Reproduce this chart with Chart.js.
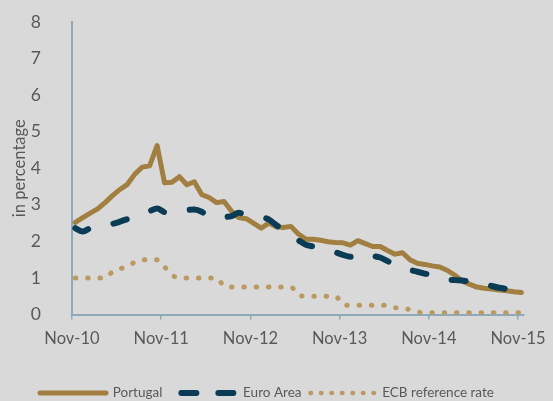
<!DOCTYPE html>
<html>
<head>
<meta charset="utf-8">
<script src="https://cdn.jsdelivr.net/npm/chart.js@4.4.1/dist/chart.umd.min.js"></script>
<style>
html,body{margin:0;padding:0;background:#d9d9d9;}
canvas{display:block;}
</style>
</head>
<body>
<canvas id="c" width="553" height="401"></canvas>
<script>
// ---- data ----
const months = [
 'Nov-10','Dec-10','Jan-11','Feb-11','Mar-11','Apr-11','May-11','Jun-11','Jul-11','Aug-11','Sep-11','Oct-11',
 'Nov-11','Dec-11','Jan-12','Feb-12','Mar-12','Apr-12','May-12','Jun-12','Jul-12','Aug-12','Sep-12','Oct-12',
 'Nov-12','Dec-12','Jan-13','Feb-13','Mar-13','Apr-13','May-13','Jun-13','Jul-13','Aug-13','Sep-13','Oct-13',
 'Nov-13','Dec-13','Jan-14','Feb-14','Mar-14','Apr-14','May-14','Jun-14','Jul-14','Aug-14','Sep-14','Oct-14',
 'Nov-14','Dec-14','Jan-15','Feb-15','Mar-15','Apr-15','May-15','Jun-15','Jul-15','Aug-15','Sep-15','Oct-15',
 'Nov-15'
];
const portugal = [
 2.52,2.65,2.77,2.89,3.06,3.25,3.42,3.56,3.84,4.03,
 4.07,4.62,3.60,3.62,3.77,3.55,3.63,3.28,3.20,3.06,
 3.09,2.83,2.65,2.62,2.49,2.36,2.50,2.40,2.38,2.41,
 2.20,2.06,2.06,2.03,1.99,1.97,1.96,1.90,2.02,1.94,
 1.86,1.86,1.75,1.65,1.69,1.50,1.40,1.37,1.33,1.30,
 1.21,1.08,0.92,0.83,0.75,0.72,0.70,0.67,0.65,0.62,
 0.60
];
const euroArea = [
 2.36,2.27,2.36,2.42,2.45,2.48,2.54,2.61,2.68,2.76,
 2.83,2.90,2.80,2.79,2.83,2.86,2.87,2.81,2.67,2.66,
 2.67,2.69,2.78,2.72,2.69,2.66,2.60,2.45,2.30,2.15,
 2.03,1.91,1.86,1.81,1.75,1.70,1.63,1.58,1.67,1.63,
 1.60,1.56,1.46,1.36,1.29,1.22,1.17,1.12,1.07,0.99,
 0.96,0.94,0.93,0.90,0.88,0.84,0.78,0.73,0.70,0.67,
 0.65
];
const ecbRate = [
 1.00,1.00,1.00,1.00,1.00,1.17,1.25,1.32,1.43,1.50,
 1.50,1.50,1.30,1.08,1.00,1.00,1.00,1.00,1.00,1.00,
 0.78,0.75,0.75,0.75,0.75,0.75,0.75,0.75,0.75,0.75,
 0.53,0.50,0.50,0.50,0.50,0.50,0.27,0.25,0.25,0.25,
 0.25,0.25,0.25,0.19,0.15,0.14,0.07,0.05,0.05,0.05,
 0.05,0.05,0.05,0.05,0.05,0.05,0.05,0.05,0.05,0.05,
 0.05
];
const seriesNames = ['Portugal', 'Euro Area', 'ECB reference rate'];
const xTickMonths = [0, 12, 24, 36, 48, 60];
const xTickLabels = ['Nov-10', 'Nov-11', 'Nov-12', 'Nov-13', 'Nov-14', 'Nov-15'];
const yTicks = [0, 1, 2, 3, 4, 5, 6, 7, 8];

// ---- styling ----
const MID_MONTH = 0.45; // observations sit mid-month on the date axis
const C_PT = '#a17f40', C_EA = '#0b3c55', C_ECB = '#bb9a62';
const C_AXIS = '#8fa9b9', C_TEXT = '#595959';
const LEGEND_START_X = 40, LEGEND_CY = 393;

Chart.defaults.font.family = 'Lato, "Open Sans", sans-serif';
Chart.defaults.color = C_TEXT;

const toPts = arr => arr.map((v, i) => ({x: i + MID_MONTH, y: v}));

const legendStyles = [
  {strokeStyle: C_PT, lineWidth: 5, lineCap: 'round', lineDash: [], lineDashOffset: 0},
  {strokeStyle: C_EA, lineWidth: 6, lineCap: 'round', lineDash: [15, 22], lineDashOffset: 26},
  {strokeStyle: C_ECB, lineWidth: 4.5, lineCap: 'round', lineDash: [0.5, 10], lineDashOffset: 9.5}
];

const legendMover = {
  id: 'legendMover',
  afterLayout(chart) {
    const lg = chart.legend;
    if (!lg || !lg.lineWidths) return;
    const pad = lg.options.labels.padding;
    const fs = lg.options.labels.font.size;
    const curX = (lg.left + pad + lg.right - lg.lineWidths[0]) / 2;
    const dx = LEGEND_START_X - curX;
    lg.left += dx; lg.right += dx;
    const curY = lg.top + pad + fs / 2;
    const dy = LEGEND_CY - curY;
    lg.top += dy; lg.bottom += dy;
  }
};

new Chart(document.getElementById('c'), {
  type: 'line',
  data: {
    datasets: [
      {label: seriesNames[0], data: toPts(portugal), borderColor: C_PT, backgroundColor: C_PT,
       borderWidth: 5, borderCapStyle: 'round', borderJoinStyle: 'round', tension: 0, pointRadius: 0, order: 1},
      {label: seriesNames[1], data: toPts(euroArea), borderColor: C_EA, backgroundColor: C_EA,
       borderWidth: 6, borderCapStyle: 'round', borderJoinStyle: 'round', borderDash: [14, 26],
       cubicInterpolationMode: 'monotone', pointRadius: 0, order: 0},
      {label: seriesNames[2], data: toPts(ecbRate), borderColor: C_ECB, backgroundColor: C_ECB,
       borderWidth: 5, borderCapStyle: 'round', borderDash: [0.5, 11.8],
       cubicInterpolationMode: 'monotone', pointRadius: 0, order: 2}
    ]
  },
  options: {
    responsive: false,
    animation: false,
    devicePixelRatio: 1,
    layout: {autoPadding: false, padding: {top: 22, right: 29, left: 0, bottom: 0}},
    scales: {
      x: {
        type: 'linear', min: 0, max: 60.8,
        afterBuildTicks: s => { s.ticks = xTickMonths.map(v => ({value: v})); },
        afterFit: s => { s.height = 55; s.paddingLeft = 0; s.paddingRight = 0; s.paddingTop = 0; s.paddingBottom = 0; },
        ticks: {
          autoSkip: false, maxRotation: 0, padding: 9,
          font: {size: 16.5}, color: C_TEXT,
          callback: v => { const k = xTickMonths.indexOf(v); return k >= 0 ? xTickLabels[k] : ''; }
        },
        grid: {display: true, drawOnChartArea: false, drawTicks: true, tickLength: 5, color: C_AXIS, lineWidth: 1.5},
        border: {display: true, color: C_AXIS, width: 2}
      },
      y: {
        min: 0, max: 8,
        afterBuildTicks: s => { s.ticks = yTicks.map(v => ({value: v})); },
        afterFit: s => { s.width = 72; s.paddingLeft = 0; s.paddingRight = 0; s.paddingTop = 0; s.paddingBottom = 0; },
        ticks: {padding: 23, font: {size: 17.5}, color: C_TEXT},
        grid: {display: false},
        border: {display: true, color: C_AXIS, width: 2},
        title: {display: true, text: 'in percentage', font: {size: 16.5}, color: C_TEXT, padding: {top: 10, bottom: 0}}
      }
    },
    plugins: {
      tooltip: {enabled: false},
      legend: {
        position: 'bottom',
        labels: {
          usePointStyle: true, pointStyle: 'line', pointStyleWidth: 66,
          padding: 8, font: {size: 13.5}, color: C_TEXT,
          sort: (a, b) => a.datasetIndex - b.datasetIndex,
          generateLabels: chart => {
            const items = Chart.defaults.plugins.legend.labels.generateLabels(chart);
            items.forEach(it => Object.assign(it, legendStyles[it.datasetIndex], {pointStyle: 'line'}));
            return items;
          }
        }
      }
    }
  },
  plugins: [legendMover]
});
</script>
</body>
</html>
